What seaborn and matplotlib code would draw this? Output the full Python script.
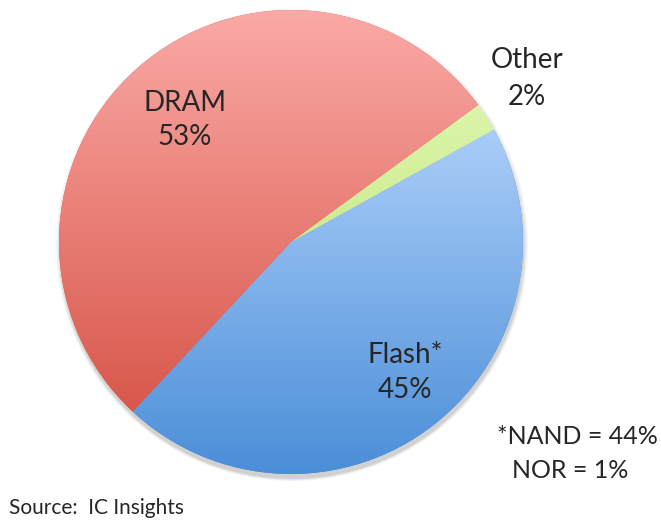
import numpy as np
import matplotlib
matplotlib.use("Agg")
import matplotlib.pyplot as plt
from matplotlib.colors import LinearSegmentedColormap
from matplotlib.patches import Circle
import seaborn as sns

# data
labels = ["Flash*", "Other", "DRAM"]
shares = [45, 2, 53]
# gradient colours (top, bottom) for each slice
top_colors = ["#aacdf8", "#dcf5aa", "#fbaaa7"]
bottom_colors = ["#4a8ed8", "#cdeb90", "#d8574b"]

sns.set_theme(style="white")
plt.rcParams["font.family"] = ["Lato", "DejaVu Sans"]

fig = plt.figure(figsize=(6.61, 5.2), dpi=100)
ax = fig.add_axes([0, 0, 1, 1])

cx, cy, r = 291, 520 - 242, 232

# soft shadow under the pie
for i, a in enumerate([0.05, 0.06, 0.08, 0.10]):
    ax.add_patch(Circle((cx + 1, cy - 3 - i * 0.5), r + 4 - i * 1.2, color="#555555",
                        alpha=a, lw=0, zorder=0))

wedges, _ = ax.pie(shares, startangle=227, counterclock=True, center=(cx, cy),
                   radius=r, wedgeprops=dict(linewidth=0))

grad = np.linspace(0, 1, 256).reshape(-1, 1)
for w, top, bot in zip(wedges, top_colors, bottom_colors):
    verts = w.get_path().vertices
    x0, x1 = verts[:, 0].min(), verts[:, 0].max()
    y0, y1 = verts[:, 1].min(), verts[:, 1].max()
    cmap = LinearSegmentedColormap.from_list("g", [bot, top])
    w.set_facecolor(bot)
    im = ax.imshow(grad, cmap=cmap, extent=(x0, x1, y0, y1), origin="lower",
                   aspect="auto", zorder=2, interpolation="bilinear")
    im.set_clip_path(w)

ax.set_xlim(0, 661)
ax.set_ylim(0, 520)
ax.set_aspect("equal")
ax.axis("off")

fs = 20
ax.text(185, 520 - 103, "DRAM", ha="center", va="center", fontsize=fs, zorder=5)
ax.text(185, 520 - 137, "53%", ha="center", va="center", fontsize=fs, zorder=5)
ax.text(527, 520 - 60, "Other", ha="center", va="center", fontsize=fs, zorder=5)
ax.text(527, 520 - 97, "2%", ha="center", va="center", fontsize=fs, zorder=5)
ax.text(405, 520 - 355, "Flash*", ha="center", va="center", fontsize=fs, zorder=5)
ax.text(405, 520 - 390, "45%", ha="center", va="center", fontsize=fs, zorder=5)
ax.text(497, 520 - 437, "*NAND = 44%", ha="left", va="center", fontsize=18, zorder=5)
ax.text(512, 520 - 470, "NOR = 1%", ha="left", va="center", fontsize=18, zorder=5)
ax.text(9, 520 - 508, "Source:  IC Insights", ha="left", va="center", fontsize=15, zorder=5)

fig.savefig("out.png", dpi=100)
